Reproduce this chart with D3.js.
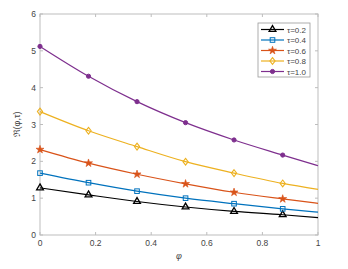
<!DOCTYPE html>
<html><head><meta charset="utf-8">
<script src="https://cdn.jsdelivr.net/npm/d3@7"></script>
<style>body{margin:0;background:#fff}text{font-family:"Liberation Sans",Arial,sans-serif}</style>
</head><body><svg id="c" width="348" height="269"></svg>
<script>
const phi = [0, 0.1745, 0.349, 0.5236, 0.698, 0.873, 1.0];
const markerIdx = [0,1,2,3,4,5];
const tau02 = [1.28, 1.09, 0.91, 0.76, 0.64, 0.55, 0.47];
const tau04 = [1.68, 1.42, 1.19, 1.00, 0.85, 0.71, 0.62];
const tau06 = [2.32, 1.95, 1.65, 1.39, 1.16, 0.98, 0.86];
const tau08 = [3.35, 2.83, 2.40, 1.99, 1.68, 1.40, 1.24];
const tau10 = [5.12, 4.31, 3.62, 3.05, 2.58, 2.17, 1.88];
const seriesNames = ["τ=0.2","τ=0.4","τ=0.6","τ=0.8","τ=1.0"];
const xTicks = [0,0.2,0.4,0.6,0.8,1];
const yTicks = [0,1,2,3,4,5,6];

const series = [
 {name:seriesNames[0], v:tau02, color:"#000000", marker:"triangle"},
 {name:seriesNames[1], v:tau04, color:"#0072BD", marker:"square"},
 {name:seriesNames[2], v:tau06, color:"#D95319", marker:"star"},
 {name:seriesNames[3], v:tau08, color:"#EDB120", marker:"diamond"},
 {name:seriesNames[4], v:tau10, color:"#7E2F8E", marker:"circle"}
];
const svg = d3.select("#c");
const L=40,R=318,T=14,B=235;
const x = d3.scaleLinear().domain([0,1]).range([L,R]);
const y = d3.scaleLinear().domain([0,6]).range([B,T]);
const axisCol="#bdbdbd", txtCol="#444";

svg.append("rect").attr("x",L).attr("y",T).attr("width",R-L).attr("height",B-T)
  .attr("fill","none").attr("stroke",axisCol).attr("stroke-width",1);
const ax = svg.append("g").attr("stroke",axisCol).attr("stroke-width",1);
xTicks.forEach(t=>{
  ax.append("line").attr("x1",x(t)).attr("x2",x(t)).attr("y1",B).attr("y2",B-3);
  ax.append("line").attr("x1",x(t)).attr("x2",x(t)).attr("y1",T).attr("y2",T+3);
});
yTicks.forEach(t=>{
  ax.append("line").attr("x1",L).attr("x2",L+3).attr("y1",y(t)).attr("y2",y(t));
  ax.append("line").attr("x1",R).attr("x2",R-3).attr("y1",y(t)).attr("y2",y(t));
});
xTicks.forEach(t=>{
  svg.append("text").attr("x",x(t)).attr("y",B+11).attr("text-anchor","middle")
   .attr("font-size",8.5).attr("fill",txtCol).text(d3.format("")(t));
});
yTicks.forEach(t=>{
  svg.append("text").attr("x",L-4).attr("y",y(t)+3).attr("text-anchor","end")
   .attr("font-size",8.5).attr("fill",txtCol).text(t);
});
svg.append("text").attr("x",(L+R)/2).attr("y",259).attr("text-anchor","middle")
  .attr("font-size",9).attr("font-style","italic").attr("fill",txtCol).text("φ");
svg.append("text").attr("transform",`translate(20,${(T+B)/2}) rotate(-90)`)
  .attr("text-anchor","middle").attr("font-size",9).attr("fill",txtCol).text("ℜ(φ,τ)");

function drawMarker(g, type, cx, cy, color){
  if(type==="triangle"){
    g.append("path").attr("d",d3.symbol(d3.symbolTriangle,20)()).attr("transform",`translate(${cx},${cy})`)
     .attr("fill","none").attr("stroke",color).attr("stroke-width",1.3);
  } else if(type==="square"){
    g.append("rect").attr("x",cx-2.3).attr("y",cy-2.3).attr("width",4.6).attr("height",4.6)
     .attr("fill","none").attr("stroke",color).attr("stroke-width",1);
  } else if(type==="star"){
    g.append("path").attr("d",d3.symbol(d3.symbolStar,20)()).attr("transform",`translate(${cx},${cy})`)
     .attr("fill",color).attr("stroke",color).attr("stroke-width",0.6);
  } else if(type==="diamond"){
    g.append("path").attr("d",`M0,-3.4L2.6,0L0,3.4L-2.6,0Z`).attr("transform",`translate(${cx},${cy})`)
     .attr("fill","none").attr("stroke",color).attr("stroke-width",1.1);
  } else {
    g.append("circle").attr("cx",cx).attr("cy",cy).attr("r",2.1).attr("fill",color).attr("stroke",color);
  }
}
const line = d3.line().x((d,i)=>x(phi[i])).y(d=>y(d)).curve(d3.curveMonotoneX);
series.forEach(s=>{
  const g = svg.append("g");
  g.append("path").attr("d",line(s.v)).attr("fill","none").attr("stroke",s.color).attr("stroke-width",1.2);
  markerIdx.forEach(i=>drawMarker(g,s.marker,x(phi[i]),y(s.v[i]),s.color));
});
const lg = svg.append("g");
lg.append("rect").attr("x",258).attr("y",23).attr("width",52).attr("height",54)
  .attr("fill","#fff").attr("stroke","#999").attr("stroke-width",0.8);
series.forEach((s,i)=>{
  const yy = 29.5 + i*10.5;
  lg.append("line").attr("x1",261).attr("x2",284).attr("y1",yy).attr("y2",yy).attr("stroke",s.color).attr("stroke-width",1.2);
  drawMarker(lg,s.marker,272.5,yy,s.color);
  lg.append("text").attr("x",287).attr("y",yy+3).attr("font-size",8).attr("fill",txtCol).text(s.name);
});
</script></body></html>
